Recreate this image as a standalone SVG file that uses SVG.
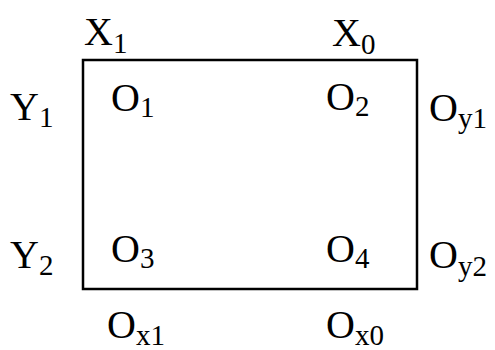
<svg xmlns="http://www.w3.org/2000/svg" width="495" height="350" viewBox="0 0 495 350">
<style>
.t{font-family:"Liberation Serif","Times New Roman",serif;font-size:40px;fill:#000}
.s{font-size:29px}
</style>
<rect width="495" height="350" fill="#fff"/>
<g id="box"><rect x="83" y="60" width="334" height="229" fill="none" stroke="#000" stroke-width="2.5"/></g>
<g id="connectors"></g>
<g id="labels">
<g id="X1"><text class="t" x="84" y="45">X<tspan class="s" dy="8">1</tspan></text></g>
<g id="X0"><text class="t" x="332" y="46">X<tspan class="s" dy="8">0</tspan></text></g>
<g id="Y1"><text class="t" x="10" y="120">Y<tspan class="s" dy="7">1</tspan></text></g>
<g id="Y2"><text class="t" x="10" y="268">Y<tspan class="s" dy="7">2</tspan></text></g>
<g id="O1"><text class="t" x="111" y="111">O<tspan class="s" dy="6">1</tspan></text></g>
<g id="O2"><text class="t" x="326" y="110">O<tspan class="s" dy="6">2</tspan></text></g>
<g id="O3"><text class="t" x="111" y="262">O<tspan class="s" dy="6">3</tspan></text></g>
<g id="O4"><text class="t" x="326" y="262">O<tspan class="s" dy="6">4</tspan></text></g>
<g id="Oy1"><text class="t" x="429" y="121">O<tspan class="s" dy="7">y1</tspan></text></g>
<g id="Oy2"><text class="t" x="429" y="268">O<tspan class="s" dy="8">y2</tspan></text></g>
<g id="Ox1"><text class="t" x="107" y="338">O<tspan class="s" dy="7">x1</tspan></text></g>
<g id="Ox0"><text class="t" x="326" y="338">O<tspan class="s" dy="7">x0</tspan></text></g>
</g>
</svg>
